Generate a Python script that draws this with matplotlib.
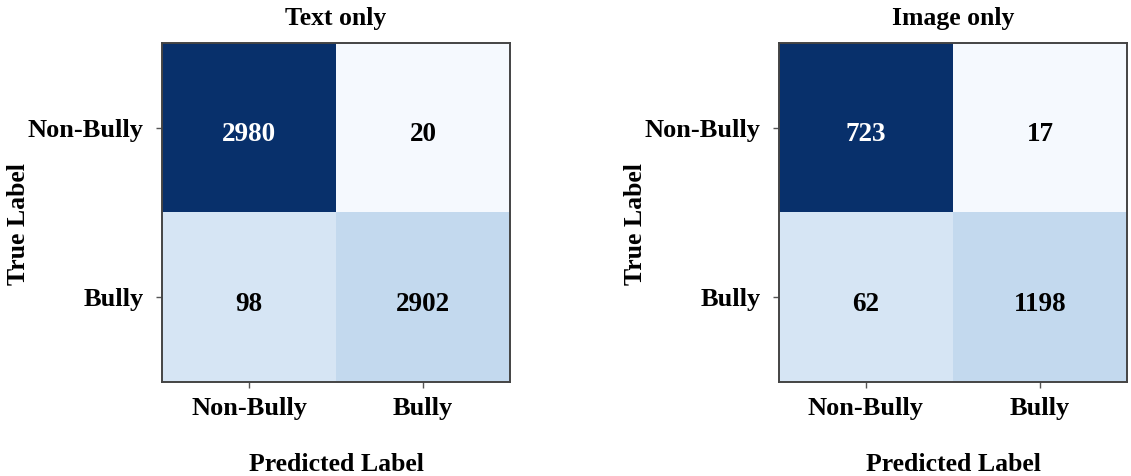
import numpy as np
import matplotlib
matplotlib.use("Agg")
import matplotlib.pyplot as plt

plt.rcParams['font.family'] = ['Liberation Serif', 'DejaVu Serif']
plt.rcParams['font.weight'] = 'bold'

class_names = ['Non-Bully', 'Bully']

# confusion matrices (rows = true, cols = predicted)
text_counts = [[2980, 20],
               [98, 2902]]
image_counts = [[723, 17],
                [62, 1198]]

# cell shading levels on the Blues map
text_shade = [[1.0, 0.01],
              [0.165, 0.26]]
image_shade = [[1.0, 0.01],
               [0.165, 0.26]]

panels = [('Text only', text_counts, text_shade),
          ('Image only', image_counts, image_shade)]

fig = plt.figure(figsize=(11.31, 4.76), dpi=100)
lefts = [162 / 1131, 779 / 1131]

for left, (title, counts, shade) in zip(lefts, panels):
    ax = fig.add_axes([left, 1 - 382 / 476, 348 / 1131, 339 / 476])
    ax.imshow(np.array(shade), cmap='Blues', vmin=0, vmax=1, aspect='auto',
              interpolation='nearest')
    for i in range(2):
        for j in range(2):
            col = 'white' if shade[i][j] > 0.5 else 'black'
            ax.text(j, i + 0.04, str(counts[i][j]), ha='center', va='center',
                    color=col, fontsize=19.5, fontweight='bold')
    ax.set_xticks([0, 1])
    ax.set_yticks([0, 1])
    ax.set_xticklabels(class_names, fontsize=19, fontweight='bold')
    ax.set_yticklabels(class_names, fontsize=19, fontweight='bold')
    ax.tick_params(length=4, width=1, color='#555555', pad=7)
    ax.tick_params(axis='y', pad=9)
    for s in ax.spines.values():
        s.set_color('#444444')
        s.set_linewidth(1.4)
    ax.set_title(title, fontsize=18.5, fontweight='bold', pad=13)
    ax.set_xlabel('Predicted Label', fontsize=18.5, fontweight='bold')
    ax.xaxis.set_label_coords(0.5, -0.21)
    ax.set_ylabel('True Label', fontsize=18.5, fontweight='bold')
    ax.yaxis.set_label_coords(-0.38, 0.465)

fig.savefig('out.png', dpi=100)
